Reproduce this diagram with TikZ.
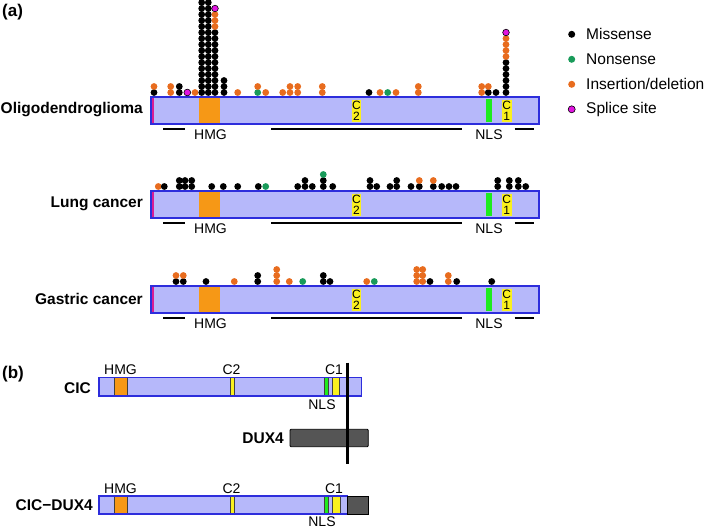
\documentclass[tikz,border=0pt]{standalone}
\usepackage{fontspec}
\setmainfont{Liberation Sans}
\usepackage{tikz}

% Farben
\definecolor{barfill}{RGB}{182,184,250}
\definecolor{barline}{RGB}{45,45,220}
\definecolor{hmgorange}{RGB}{246,152,22}
\definecolor{cyellow}{RGB}{250,240,30}
\definecolor{nlsgreen}{RGB}{30,235,30}
\definecolor{splicemag}{RGB}{215,30,150}
\definecolor{dotgreen}{RGB}{25,155,90}
\definecolor{dotorange}{RGB}{232,108,30}
\definecolor{dotmag}{RGB}{225,20,225}
\definecolor{duxgray}{RGB}{85,85,85}

\tikzset{
  mis/.style={fill=black},
  non/.style={fill=dotgreen},
  ind/.style={fill=dotorange},
  spl/.style={fill=dotmag, draw=black, line width=0.6pt},
  lbl/.style={font=\fontsize{14}{16}\selectfont, inner sep=0pt},
  cfont/.style={font=\fontsize{12}{12}\selectfont, inner sep=0pt},
  rowlabel/.style={font=\bfseries\fontsize{15.5}{18}\selectfont, anchor=east, inner sep=0pt},
  panel/.style={font=\bfseries\fontsize{17}{20}\selectfont, anchor=west, inner sep=0pt},
  domline/.style={line width=1.8pt},
  boxline/.style={draw=black!75, line width=0.5pt}
}

% eine Zeile: #1 = Oberkante, #2 = Name, #3 = Text, #4 = Mutationen x/k/Typ
\newcommand{\cicrow}[4]{%
  \begin{scope}[shift={(0,#1)}]
    % Proteinbalken
    \fill[barfill] (151,0) rectangle (539,27);
    \fill[splicemag] (151.5,0.5) rectangle (154,26.5);
    \fill[hmgorange] (199,0) rectangle (220,27);
    \fill[nlsgreen] (486,2) rectangle (492,25);
    \fill[cyellow] (352,3) rectangle (361,25);
    \fill[cyellow] (502,3) rectangle (511.5,25);
    \draw[barline, line width=1.3pt] (151,0) rectangle (539,27);
    \node[cfont] (#2-c2a) at (356.5,8.5) {C};
    \node[cfont] (#2-c2b) at (356.5,19.5) {2};
    \node[cfont] (#2-c1a) at (506.8,8.5) {C};
    \node[cfont] (#2-c1b) at (506.8,19.5) {1};
    % Domaenenlinien
    \draw[domline] (163,32) -- (185,32);
    \draw[domline] (271,32) -- (461.5,32);
    \draw[domline] (514.5,32) -- (533.5,32);
    \node[lbl] (#2-hmg) at (210.5,38) {HMG};
    \node[lbl] (#2-nls) at (489,38) {NLS};
    \node[rowlabel] (#2-name) at (143,12.5) {#3};
    % Mutationen
    \foreach \x/\k/\t in {#4}
      \path[\t] (\x,-4.5-6*\k) circle (3.4);
  \end{scope}}

\begin{document}
\begin{tikzpicture}[x=1pt, y=-1pt]
  \useasboundingbox (0,0) rectangle (709,528);

  % (a)
  \node[panel] (pa) at (2,12) {(a)};

  % Oligodendrogliom
  \cicrow{97}{oligo}{Oligodendroglioma}{154/0/mis, 154/1/ind, 170.7/0/ind, 170.7/1/ind,
    179.3/0/mis, 179.3/1/mis, 187.3/0/spl, 195/0/ind, 224/0/mis, 224/1/mis, 224/2/mis,
    237.7/0/ind, 257.7/0/non, 257.7/1/ind, 265.7/0/ind, 282.7/0/ind, 290/0/ind, 290/1/ind,
    297.7/0/ind, 297.7/1/ind, 322.3/0/ind, 322.3/1/ind, 369/0/mis, 380/0/ind, 387.7/0/non,
    396/0/ind, 418.3/0/ind, 418.3/1/ind, 481.7/0/ind, 481.7/1/ind, 488.3/0/mis, 488.3/1/ind,
    496/0/mis}
  % grosse Saeulen an HMG und C1
  \begin{scope}[shift={(0,97)}]
    \foreach \k in {0,...,15} {
      \path[mis] (201.7,-4.5-6*\k) circle (3.4);
      \path[mis] (208.3,-4.5-6*\k) circle (3.4);
    }
    \foreach \k in {0,...,10} \path[mis] (215,-4.5-6*\k) circle (3.4);
    \foreach \k in {11,12,13} \path[ind] (215,-4.5-6*\k) circle (3.4);
    \path[spl] (215,-4.5-6*14) circle (3.3);
    \foreach \k in {0,...,5} \path[mis] (506,-4.5-6*\k) circle (3.4);
    \foreach \k in {6,...,9} \path[ind] (506,-4.5-6*\k) circle (3.4);
    \path[spl] (506,-4.5-6*10) circle (3.3);
  \end{scope}

  % Lungenkrebs
  \cicrow{191}{lung}{Lung cancer}{158.3/0/ind, 164.3/0/mis, 179.3/0/mis, 179.3/1/mis,
    185/0/mis, 185/1/mis, 191.7/0/mis, 191.7/1/mis, 211.7/0/mis, 223.3/0/mis, 237.7/0/mis,
    258.3/0/mis, 265.7/0/non, 297.7/0/mis, 305/0/mis, 305/1/mis, 312.3/0/mis, 323.3/0/mis,
    323.3/1/mis, 323.3/2/non, 332.7/0/mis, 370/0/mis, 370/1/mis, 376.7/0/mis, 390/0/mis,
    396.7/0/mis, 396.7/1/mis, 411/0/mis, 419.3/0/mis, 419.3/1/ind, 433.3/0/mis, 433.3/1/ind,
    441.7/0/mis, 449/0/mis, 456/0/mis, 497.7/0/mis, 497.7/1/mis, 509.3/0/mis, 509.3/1/mis,
    518.3/0/mis, 518.3/1/mis, 525.7/0/mis}

  % Magenkrebs
  \cicrow{286}{gastric}{Gastric cancer}{176/0/mis, 176/1/ind, 183.3/0/mis, 183.3/1/ind,
    206/0/mis, 234.3/0/ind, 257.7/0/mis, 257.7/1/mis, 276.7/0/ind, 276.7/1/ind, 276.7/2/ind,
    289.3/0/ind, 302.7/0/non, 323.3/0/mis, 323.3/1/mis, 330/0/mis, 366.7/0/ind, 374.3/0/non,
    416.7/0/ind, 416.7/1/ind, 416.7/2/ind, 422.7/0/ind, 422.7/1/ind, 422.7/2/ind, 430/0/mis,
    448.3/0/ind, 448.3/1/ind, 456.7/0/mis, 491.7/0/mis}

  % Legende
  \foreach \t/\txt [count=\i] in {mis/Missense, non/Nonsense, ind/{Insertion/deletion}, spl/Splice site} {
    \path[\t] (571.7,{34.3+25*(\i-1)}) circle (3.5);
    \node[lbl, font=\fontsize{15.5}{18}\selectfont, anchor=west] (leg\i) at (586,{34.3+25*(\i-1)}) {\txt};
  }

  % (b)
  \node[panel] (pb) at (2,374) {(b)};

  % CIC
  \fill[barfill] (99,377.5) rectangle (361.7,396);
  \fill[hmgorange, boxline] (114.3,377.5) rectangle (127.7,396);
  \fill[cyellow, boxline] (230,377.5) rectangle (234.3,396);
  \fill[nlsgreen, boxline] (324,377.5) rectangle (328.3,396);
  \fill[cyellow, boxline] (332.7,377.5) rectangle (339.3,396);
  \draw[barline, line width=1.2pt] (99,377.5) rectangle (361.7,396);
  \node[rowlabel] (cic) at (91,388) {CIC};
  \node[lbl] (cic-hmg) at (120.5,370) {HMG};
  \node[lbl] (cic-c2) at (231.5,370) {C2};
  \node[lbl] (cic-c1) at (334,370) {C1};
  \node[lbl] (cic-nls) at (322,404.5) {NLS};

  % DUX4
  \fill[duxgray, draw=black, line width=0.8pt, rounded corners=1pt] (290,429.3) rectangle (368.3,446.7);
  \node[rowlabel] (dux) at (284,438.3) {DUX4};

  % Bruchstelle
  \coordinate (cut-top) at (347.7,362.5);
  \coordinate (cut-bot) at (347.7,463.5);
  \draw[line width=2.6pt] (cut-top) -- (cut-bot);

  % CIC-DUX4
  \fill[barfill] (99,496) rectangle (347.7,514);
  \fill[hmgorange, boxline] (114.3,496) rectangle (127.7,514);
  \fill[cyellow, boxline] (230,496) rectangle (234.3,514);
  \fill[nlsgreen, boxline] (324,496) rectangle (328.3,514);
  \fill[cyellow, boxline] (332.7,496) rectangle (340,514);
  \draw[barline, line width=1.2pt] (99,496) rectangle (347.7,514);
  \fill[duxgray, draw=black, line width=0.8pt] (347.7,496) rectangle (368.3,514);
  \node[rowlabel] (fus) at (93,505) {CIC−DUX4};
  \node[lbl] (fus-hmg) at (120.5,488.5) {HMG};
  \node[lbl] (fus-c2) at (231.5,488.5) {C2};
  \node[lbl] (fus-c1) at (334,488.5) {C1};
  \node[lbl] (fus-nls) at (322,521.5) {NLS};
\end{tikzpicture}
\end{document}
